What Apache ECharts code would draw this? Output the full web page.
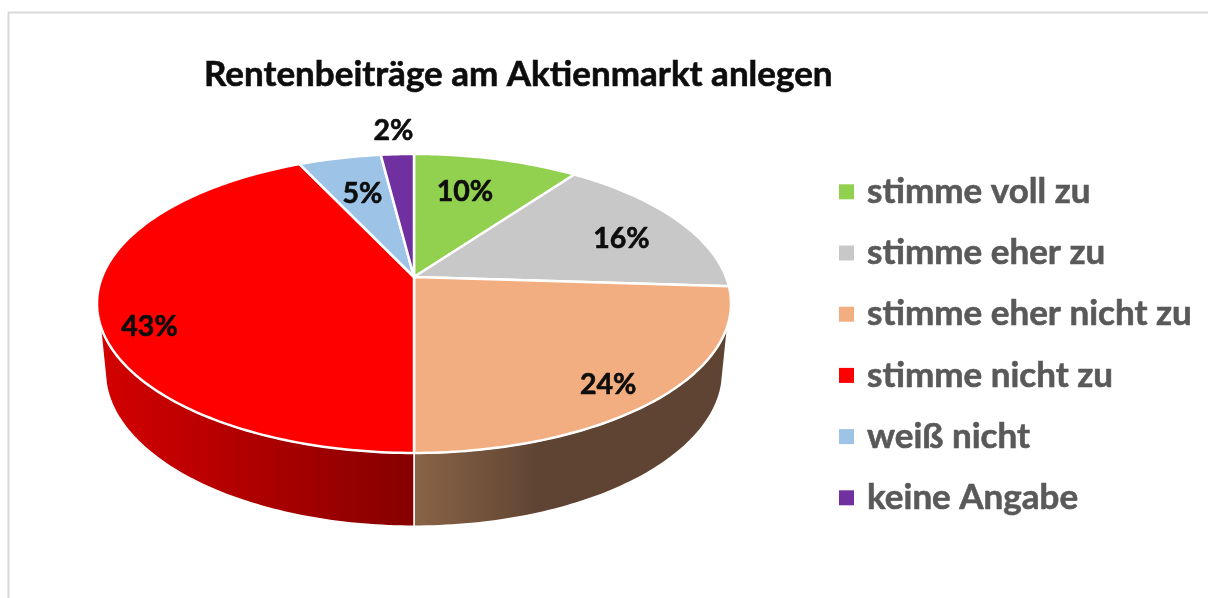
<!DOCTYPE html>
<html>
<head>
<meta charset="utf-8">
<title>Rentenbeiträge am Aktienmarkt anlegen</title>
<script src="https://cdn.jsdelivr.net/npm/echarts@6/dist/echarts.min.js"></script>
<style>
html, body { margin: 0; padding: 0; background: #fff; }
#main { width: 1208px; height: 598px; }
</style>
</head>
<body>
<div id="main"></div>
<script>
// Daten
var categories = ['stimme voll zu', 'stimme eher zu', 'stimme eher nicht zu', 'stimme nicht zu', 'weiß nicht', 'keine Angabe'];
var values = [10, 16, 24, 43, 5, 2];
var colors = ['#92d050', '#c8c8c8', '#f2ae80', '#ff0000', '#9dc3e6', '#7030a0'];

// Seitenwand, nur die zwei vorderen Stücke sind sichtbar
var wallColors = [
    null,
    null,
    [[0, '#8a6446'], [0.4, '#5f4433'], [1, '#5f4433']],
    [[0, '#d40000'], [1, '#860000']],
    null,
    null
];

// Lage der Beschriftung im Kreis: Winkel (Grad), Radius (1 = Rand)
var labelAngle = [15.2, 67.4, 139.7, 248.7, 344.1, 356.2];
var labelRadius = [0.69, 0.755, 0.85, 0.861, 0.681, 1.25];

// Perspektive der oberen und unteren Kreisfläche
var topDisc = { cx: 414, cy: 277, r: 312, s: 144.8, k: 0.177 };
var lowDisc = { cx: 414, cy: 344, r: 304, s: 150.3, k: 0.175 };
var wallLimitTop = 18;  // Grad über die Waagerechte hinaus
var wallLimitLow = 14.5;

function project(disc, deg, radius) {
    var a = deg * Math.PI / 180;
    var u = radius * Math.sin(a);
    var v = -radius * Math.cos(a);
    var d = 1 - disc.k * v;
    return [disc.cx + disc.r * u / d, disc.cy + disc.s * v / d];
}

function arc(disc, from, to) {
    var pts = [];
    var n = Math.max(2, Math.ceil(Math.abs(to - from)));
    for (var i = 0; i <= n; i++) {
        pts.push(project(disc, from + (to - from) * i / n, 1));
    }
    return pts;
}

function clampRange(from, to, limit) {
    return [Math.max(from, 90 + limit), Math.min(to, 270 - limit)];
}

function makeRenderItem(index) {
    return function (params, api) {
        var start = api.value(0) * 3.6;
        var end = api.value(1) * 3.6;
        var children = [];
        if (wallColors[index]) {
            var t = clampRange(start, end, wallLimitTop);
            var l = clampRange(start, end, wallLimitLow);
            var stops = wallColors[index].map(function (s) {
                return { offset: s[0], color: s[1] };
            });
            children.push({
                type: 'polygon',
                shape: { points: arc(topDisc, t[0], t[1]).concat(arc(lowDisc, l[1], l[0])) },
                style: {
                    fill: new echarts.graphic.LinearGradient(0, 0, 1, 0, stops),
                    stroke: '#fff',
                    lineWidth: 1.5
                }
            });
        }
        children.push({
            type: 'polygon',
            shape: { points: [project(topDisc, 0, 0)].concat(arc(topDisc, start, end)) },
            style: { fill: colors[index], stroke: '#fff', lineWidth: 2.5, lineJoin: 'round' }
        });
        var p = project(topDisc, labelAngle[index], labelRadius[index]);
        children.push({
            type: 'text',
            z2: 10,
            style: {
                text: values[index] + '%',
                x: p[0] + 0.5,
                y: p[1] + 1.5,
                align: 'center',
                verticalAlign: 'middle',
                fill: '#0d0d0d',
                stroke: '#0d0d0d',
                lineWidth: 0.6,
                font: 'bold 28.5px Lato'
            }
        });
        return { type: 'group', children: children };
    };
}

var series = [];
var sum = 0;
for (var i = 0; i < values.length; i++) {
    series.push({
        name: categories[i],
        type: 'custom',
        coordinateSystem: 'none',
        itemStyle: { color: colors[i] },
        renderItem: makeRenderItem(i),
        data: [[sum, sum + values[i]]]
    });
    sum += values[i];
}

var chart = echarts.init(document.getElementById('main'));
var option = {
    animation: false,
    backgroundColor: '#fff',
    title: {
        text: 'Rentenbeiträge am Aktienmarkt anlegen',
        left: 199,
        top: 52,
        textStyle: {
            fontFamily: 'Lato',
            fontWeight: 'bold',
            fontSize: 35,
            color: '#0d0d0d',
            textBorderColor: '#0d0d0d',
            textBorderWidth: 0.6
        }
    },
    legend: {
        orient: 'vertical',
        left: 834,
        top: 169,
        icon: 'rect',
        itemWidth: 15,
        itemHeight: 15,
        itemGap: 25.6,
        data: categories,
        selectedMode: false,
        textStyle: {
            fontFamily: 'Lato',
            fontWeight: 'bold',
            fontSize: 35,
            color: '#595959',
            textBorderColor: '#595959',
            textBorderWidth: 0.6,
            lineHeight: 30,
            padding: [0, 0, 0, 8]
        }
    },
    graphic: [{
        // Rahmen, rechts und unten abgeschnitten
        type: 'rect',
        silent: true,
        shape: { x: 8.5, y: 12.5, width: 1400, height: 800 },
        style: { fill: 'none', stroke: '#d9d9d9', lineWidth: 2 }
    }],
    series: series
};
chart.setOption(option);
</script>
</body>
</html>
